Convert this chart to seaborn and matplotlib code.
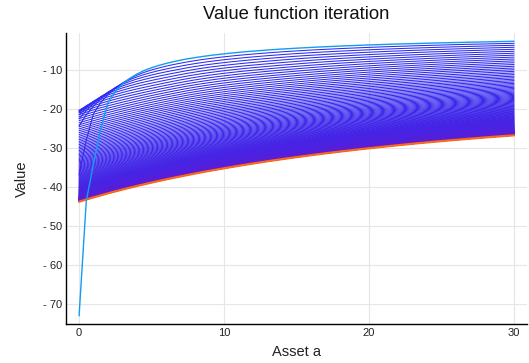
import numpy as np
import pandas as pd
import matplotlib
matplotlib.use('Agg')
import matplotlib.pyplot as plt
import seaborn as sns

# ---- data ----
asset_grid = np.arange(0, 30.01, 0.5)
v_initial = [-73.0, -43.5, -34.0, -25.0, -18.3, -15.6, -13.6, -12.2, -11.1, -10.2,
             -9.5, -8.9, -8.4, -7.95, -7.55, -7.2, -6.9, -6.62, -6.37, -6.14,
             -5.93, -5.74, -5.56, -5.39, -5.24, -5.1, -4.96, -4.83, -4.71, -4.6,
             -4.49, -4.39, -4.29, -4.2, -4.11, -4.03, -3.95, -3.87, -3.8, -3.73,
             -3.66, -3.6, -3.54, -3.48, -3.42, -3.37, -3.32, -3.27, -3.22, -3.17,
             -3.12, -3.08, -3.04, -3.0, -2.96, -2.92, -2.88, -2.84, -2.8, -2.76, -2.72]
crra_sigma = 1.75
discount_beta = 0.975
interest_r = 0.04
wage_w = 1.25
n_iterations = 160
x_ticks = [0, 10, 20, 30]
x_tick_labels = ['0', '10', '20', '30']
y_ticks = [-70, -60, -50, -40, -30, -20, -10]
y_tick_labels = ['- 70', '- 60', '- 50', '- 40', '- 30', '- 20', '- 10']
title_text = 'Value function iteration'
x_label = 'Asset a'
y_label = 'Value'

# ---- value function iteration (Bellman operator on the asset grid) ----
a = np.asarray(asset_grid)
cash = (1 + interest_r) * a + wage_w
cons = cash[:, None] - a[None, :]
safe = np.maximum(cons, 1e-9)
util = np.where(cons > 0, safe ** (1 - crra_sigma) / (1 - crra_sigma), -1e10)
iterates = [np.asarray(v_initial, dtype=float)]
for _ in range(n_iterations):
    iterates.append((util + discount_beta * iterates[-1][None, :]).max(axis=1))

rows = []
for k in range(1, n_iterations):
    rows.append(pd.DataFrame({'asset': a, 'value': iterates[k], 'iteration': k}))
df_mid = pd.concat(rows, ignore_index=True)
df_first = pd.DataFrame({'asset': a, 'value': iterates[0]})
df_last = pd.DataFrame({'asset': a, 'value': iterates[-1]})

start = np.array([0.17, 0.17, 0.96])
end = np.array([0.40, 0.10, 0.82])
palette = []
for k in range(1, n_iterations):
    t = (k - 1) / max(n_iterations - 2, 1)
    palette.append(tuple(start + (end - start) * t))

# ---- figure ----
sns.set_style('white')
plt.rcParams['font.family'] = ['Liberation Sans', 'DejaVu Sans']
fig = plt.figure(figsize=(5.29, 3.63), dpi=100)
ax = fig.add_axes([0.1248, 0.1074, 0.8715, 0.8017])

sns.lineplot(data=df_mid, x='asset', y='value', hue='iteration', palette=palette,
             legend=False, estimator=None, sort=False, lw=0.75, ax=ax)
sns.lineplot(data=df_last, x='asset', y='value', color='#F86A1A', lw=1.6,
             estimator=None, sort=False, ax=ax, zorder=5)
sns.lineplot(data=df_first, x='asset', y='value', color='#149CF2', lw=1.0,
             estimator=None, sort=False, ax=ax, zorder=6)

ax.set_xlim(-0.9, 30.9)
ax.set_ylim(-75.1, -0.6)
ax.set_xticks(x_ticks)
ax.set_xticklabels(x_tick_labels)
ax.set_yticks(y_ticks)
ax.set_yticklabels(y_tick_labels)
ax.grid(True, color='#E6E6E6', lw=0.8)
ax.set_axisbelow(True)
for s in ['top', 'right']:
    ax.spines[s].set_visible(False)
for s in ['left', 'bottom']:
    ax.spines[s].set_color('black')
    ax.spines[s].set_linewidth(1.0)
ax.tick_params(axis='both', direction='in', length=4, width=0.8, color='black',
               labelsize=8, labelcolor='#222222')
ax.tick_params(axis='x', pad=3)
ax.tick_params(axis='y', pad=2.5)

ax.set_xlabel(x_label, fontsize=10.5, color='#222222')
ax.set_ylabel(y_label, fontsize=10.5, color='#222222')
ax.xaxis.label.set_va('center')
ax.yaxis.label.set_va('center')
ax.xaxis.set_label_coords(0.5, -0.096)
ax.yaxis.set_label_coords(-0.0954, 0.5)
ax.set_title(title_text, fontsize=13.3, y=1.062, va='center', pad=0, color='#111111')

fig.savefig('out.png', dpi=100)
